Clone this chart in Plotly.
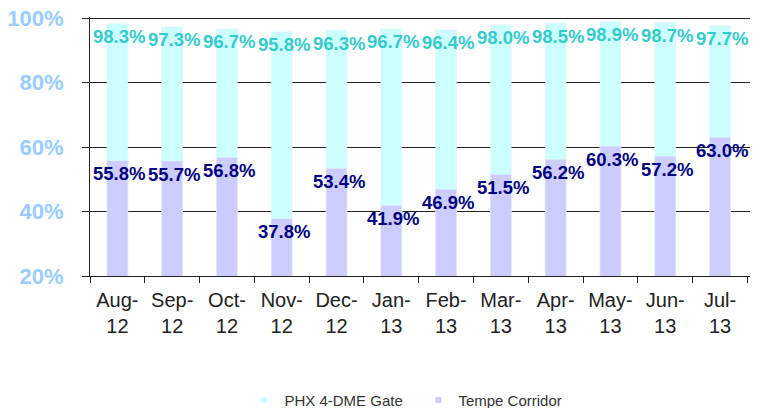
import plotly.graph_objects as go

months = ["Aug-<br>12", "Sep-<br>12", "Oct-<br>12", "Nov-<br>12", "Dec-<br>12", "Jan-<br>13",
          "Feb-<br>13", "Mar-<br>13", "Apr-<br>13", "May-<br>13", "Jun-<br>13", "Jul-<br>13"]
phx_gate = [98.3, 97.3, 96.7, 95.8, 96.3, 96.7, 96.4, 98.0, 98.5, 98.9, 98.7, 97.7]
tempe_corridor = [55.8, 55.7, 56.8, 37.8, 53.4, 41.9, 46.9, 51.5, 56.2, 60.3, 57.2, 63.0]
y_ticks = [20, 40, 60, 80, 100]

FONT = "Liberation Sans, Arial, sans-serif"
PHX_FILL, PHX_TEXT = "#CCFFFF", "#33CCCC"
TEMPE_FILL, TEMPE_TEXT = "#CCCCFF", "#000080"

fig = go.Figure()
fig.add_trace(go.Bar(x=months, y=phx_gate, name="PHX 4-DME Gate", marker_color=PHX_FILL,
                     width=0.38, showlegend=False, hoverinfo="x+y"))
fig.add_trace(go.Bar(x=months, y=tempe_corridor, name="Tempe Corridor", marker_color=TEMPE_FILL,
                     width=0.38, showlegend=False, hoverinfo="x+y"))
# legend-only entries with small square symbols
fig.add_trace(go.Scatter(x=[None], y=[None], mode="markers", name="PHX 4-DME Gate",
                         marker=dict(symbol="square", size=6, color=PHX_FILL)))
fig.add_trace(go.Scatter(x=[None], y=[None], mode="markers", name="Tempe Corridor",
                         marker=dict(symbol="square", size=6, color=TEMPE_FILL)))

annotations = []
for m, v in zip(months, phx_gate):
    annotations.append(dict(x=m, y=v, text=f"{v:.1f}%", showarrow=False, yshift=-13, xshift=2,
                            font=dict(family=FONT, size=18.5, color=PHX_TEXT, weight="bold")))
for m, v in zip(months, tempe_corridor):
    annotations.append(dict(x=m, y=v, text=f"{v:.1f}%", showarrow=False, yshift=-13, xshift=2,
                            font=dict(family=FONT, size=18.5, color=TEMPE_TEXT, weight="bold")))

fig.update_layout(
    width=760, height=408,
    margin=dict(l=90, r=10, t=17, b=132, autoexpand=False),
    paper_bgcolor="white", plot_bgcolor="white",
    barmode="overlay",
    font=dict(family=FONT),
    annotations=annotations,
    showlegend=True,
    legend=dict(orientation="h", x=0.4976, xanchor="center", y=-0.48, yanchor="middle",
                font=dict(family=FONT, size=15, color="#333333"),
                itemwidth=30, itemsizing="trace", entrywidth=129),
    xaxis=dict(type="category", showline=True, linecolor="#222222", linewidth=1,
               ticks="outside", tickson="boundaries", ticklen=6, tickcolor="#222222",
               ticklabelstandoff=6, automargin=False,
               tickfont=dict(family=FONT, size=20, color="#222222"), showgrid=False),
    yaxis=dict(range=[20, 100.4], tickvals=y_ticks, ticktext=[f"{t}%" for t in y_ticks],
               showline=True, linecolor="#222222", linewidth=1,
               showgrid=True, gridcolor="#222222", gridwidth=1,
               ticks="outside", ticklen=7, tickcolor="#222222",
               ticklabelstandoff=14, automargin=False, ticklabeloverflow="allow",
               tickfont=dict(family=FONT, size=22, color="#99CCFF", weight="bold"),
               zeroline=False),
)

# remove the default page margin so the figure fills the window exactly
fig.write_html("out.html", config={"displayModeBar": False},
               post_script="document.body.style.margin='0';")
